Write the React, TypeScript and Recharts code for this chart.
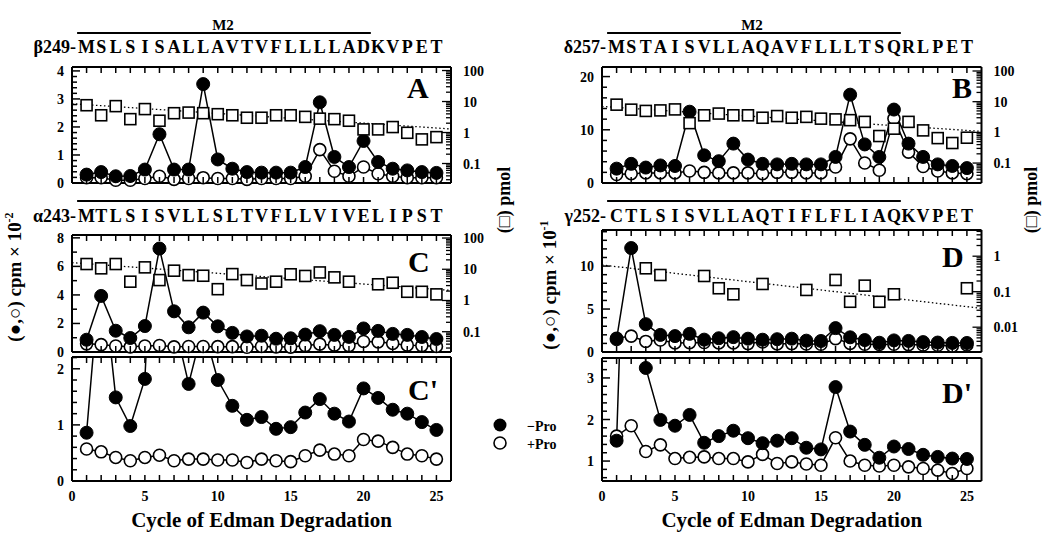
import { ComposedChart, Line, XAxis, YAxis } from "recharts";

const FONT = "'Liberation Serif', 'Times New Roman', Times, serif";

// cycle numbers of Edman degradation
const cycles = [1, 2, 3, 4, 5, 6, 7, 8, 9, 10, 11, 12, 13, 14, 15, 16, 17, 18, 19, 20, 21, 22, 23, 24, 25];
const xLabelTicks = [0, 5, 10, 15, 20, 25];

// sequences above each panel
const seqA = "MSLSISALLAVTVFLLLLADKVPET".split("");
const seqB = "MSTAISVLLAQAVFLLLTSQRLPET".split("");
const seqC = "MTLSISVLLSLTVFLLVIVELIPST".split("");
const seqD = "CTLSISVLLAQTIFLFLIAQKVPET".split("");

// A: beta subunit (cpm x 10^-2, pmol)
const minusA = [0.3, 0.39, 0.24, 0.25, 0.48, 1.74, 0.48, 0.48, 3.53, 0.84, 0.51, 0.39, 0.37, 0.37, 0.37, 0.57, 2.88, 0.93, 0.57, 1.5, 0.75, 0.51, 0.45, 0.39, 0.36];
const plusA = [0.19, 0.19, 0.1, 0.1, 0.16, 0.24, 0.13, 0.16, 0.19, 0.16, 0.16, 0.13, 0.16, 0.16, 0.16, 0.24, 1.19, 0.42, 0.24, 0.57, 0.33, 0.24, 0.19, 0.19, 0.19];
const pmolA = [7.6, 3.6, 7.1, 2.7, 5.7, 2.4, 4.2, 4.4, 4.2, 3.9, 3.6, 3.0, 3.0, 3.6, 3.6, 3.2, 2.8, 2.7, 2.4, 1.26, 1.26, 1.5, 0.98, 0.6, 0.71];
const fitA = [8.5, 1.3];

// B: delta subunit
const minusB = [2.7, 3.6, 2.9, 3.3, 3.2, 13.4, 5.2, 4.1, 7.4, 4.4, 3.6, 3.5, 3.6, 3.5, 3.5, 4.9, 16.6, 7.25, 4.9, 13.8, 7.4, 4.9, 3.5, 3.2, 2.8];
const plusB = [1.6, 1.75, 1.9, 1.9, 1.9, 2.25, 2.0, 1.9, 1.9, 1.9, 1.75, 2.0, 2.0, 1.9, 1.9, 3.0, 8.3, 3.75, 2.4, 12.1, 5.8, 3.1, 2.25, 1.9, 1.75];
const pmolB = [8.0, 5.5, 5.0, 5.2, 5.6, 2.0, 3.6, 4.1, 3.6, 3.6, 3.0, 3.4, 3.0, 3.2, 2.8, 2.65, 2.5, 2.2, 0.76, 1.32, 2.2, 1.16, 0.65, 0.45, 0.67];
const fitB = [7.0, 1.08];

// C / C': alpha subunit
const minusC = [0.86, 3.93, 1.49, 0.98, 1.82, 7.25, 2.85, 1.73, 2.76, 1.8, 1.34, 1.09, 1.14, 0.93, 0.96, 1.22, 1.46, 1.2, 1.06, 1.65, 1.48, 1.27, 1.2, 1.05, 0.91];
const plusC = [0.57, 0.52, 0.42, 0.36, 0.42, 0.46, 0.36, 0.39, 0.39, 0.375, 0.375, 0.33, 0.39, 0.36, 0.345, 0.45, 0.55, 0.48, 0.45, 0.74, 0.71, 0.6, 0.48, 0.45, 0.39];
const pmolC = [14.7, 10.7, 14.7, 4.0, 11.5, 4.5, 9.0, 6.5, 6.2, 2.3, 7.0, 4.5, 3.5, 4.0, 6.9, 6.1, 7.9, 5.5, 4.0, null, 3.3, 3.7, 1.9, 1.9, 1.57];
const fitC = [16.3, 2.1];

// D / D': gamma subunit (cpm x 10^-1)
const minusD = [1.49, 12.1, 3.24, 1.99, 1.85, 2.11, 1.44, 1.6, 1.73, 1.55, 1.43, 1.49, 1.55, 1.32, 1.28, 2.78, 1.71, 1.39, 1.08, 1.35, 1.29, 1.15, 1.1, 1.06, 1.05];
const plusD = [1.6, 1.85, 1.23, 1.39, 1.06, 1.09, 1.1, 1.06, 1.06, 0.98, 1.16, 0.94, 0.98, 0.93, 0.9, 1.56, 1.0, 0.9, 0.88, 0.9, 0.86, 0.82, 0.78, 0.7, 0.82];
const pmolD = [null, null, 0.456, 0.295, null, null, 0.277, 0.125, 0.0845, null, 0.165, null, null, 0.112, null, 0.214, 0.052, 0.148, 0.052, 0.0845, null, null, null, null, 0.125];
const fitD = [0.565, 0.034];

type Row = { x: number; minus?: number | null; plus?: number | null; pmol?: number | null; fit?: number | null };

function buildRows(minus: number[], plus: number[], pmol?: (number | null)[], fit?: number[]): Row[] {
  const rows: Row[] = [];
  if (fit) rows.push({ x: 0, fit: fit[0] });
  cycles.forEach((c, i) => rows.push({ x: c, minus: minus[i], plus: plus[i], pmol: pmol ? pmol[i] : null }));
  if (fit) rows.push({ x: 26, fit: fit[1] });
  return rows;
}

function steps(lo: number, hi: number, step: number) {
  const out: number[] = [];
  for (let v = Math.ceil(lo / step - 1e-9) * step; v <= hi + 1e-9; v += step) out.push(+v.toFixed(4));
  return out;
}

function logTicks(lo: number, hi: number) {
  const out: number[] = [];
  for (let d = Math.floor(Math.log10(lo)); d <= Math.ceil(Math.log10(hi)); d++) {
    for (let k = 1; k <= 9; k++) {
      const v = +(k * Math.pow(10, d)).toPrecision(6);
      if (v >= lo && v <= hi) out.push(v);
    }
  }
  return out;
}

const match = (labels: number[], v: number) =>
  labels.find((l) => Math.abs(l - v) <= 1e-6 * Math.max(1, Math.abs(l)));

const txt = { fontFamily: FONT, fontWeight: 700, fill: "#000" } as const;
const axisLine = { stroke: "#000", strokeWidth: 2 };
const TICK = "#000";

const Square = (props: any) => {
  const { cx, cy, index, payload } = props;
  if (payload?.pmol == null || cx == null || cy == null || isNaN(cy)) return <g key={`sq-${index}`} />;
  return <rect key={`sq-${index}`} x={cx - 5.5} y={cy - 5.5} width={11} height={11} fill="#fff" stroke="#000" strokeWidth={1.6} />;
};

type PanelProps = {
  left: number;
  top: number;
  w: number;
  h: number;
  rows: Row[];
  letters?: string[];
  letterY?: number;
  yDomain: [number, number];
  yStep: number;
  yLabels: number[];
  logDomain?: [number, number];
  logLabels?: number[];
  xLabels?: boolean;
  zoomed?: boolean;
};

function Panel(p: PanelProps) {
  const LW = 45;
  const RW = 50;
  const TH = p.letters ? 36 : 10;
  const BH = p.xLabels ? 30 : 12;
  const yTicks = steps(p.yDomain[0], p.yDomain[1], p.yStep);
  const lTicks = p.logDomain ? logTicks(p.logDomain[0], p.logDomain[1]) : [];
  const letterOff = (p.letterY ?? 0) - p.top;

  return (
    <div style={{ position: "absolute", left: p.left - LW, top: p.top - TH }}>
      <ComposedChart width={p.w + LW + RW} height={p.h + TH + BH} data={p.rows} margin={{ top: 0, right: 0, bottom: 0, left: 0 }}>
        <XAxis
          xAxisId="b"
          dataKey="x"
          type="number"
          domain={[0, 26]}
          allowDataOverflow
          ticks={p.xLabels ? [0, ...cycles] : cycles}
          interval={0}
          height={BH}
          tickSize={0}
          tickMargin={0}
          axisLine={axisLine}
          tickLine={false}
          tick={(t: any) => (
            <g>
              <path d={`M${t.x},${t.y}V${t.y - 6}`} stroke={TICK} strokeWidth={1.5} />
              {p.xLabels && xLabelTicks.includes(t.payload.value) && (
                <text x={t.x} y={t.y + 20} textAnchor="middle" fontSize={14} {...txt}>
                  {t.payload.value}
                </text>
              )}
            </g>
          )}
        />
        <XAxis
          xAxisId="t"
          orientation="top"
          dataKey="x"
          type="number"
          domain={[0, 26]}
          allowDataOverflow
          ticks={cycles}
          interval={0}
          height={TH}
          tickSize={0}
          tickMargin={0}
          axisLine={axisLine}
          tickLine={false}
          tick={(t: any) => (
            <g>
              <path d={`M${t.x},${t.y}V${t.y + 6}`} stroke={TICK} strokeWidth={1.5} />
              {p.letters && (
                <text x={t.x} y={t.y + letterOff} textAnchor="middle" fontSize={18} {...txt}>
                  {p.letters[t.payload.value - 1]}
                </text>
              )}
            </g>
          )}
        />
        <YAxis
          yAxisId="l"
          type="number"
          domain={p.yDomain}
          allowDataOverflow
          ticks={yTicks}
          interval={0}
          width={LW}
          tickSize={0}
          tickMargin={0}
          axisLine={axisLine}
          tickLine={false}
          tick={(t: any) => {
            const lab = match(p.yLabels, t.payload.value);
            return (
              <g>
                <path d={`M${t.x},${t.y}H${t.x + (lab !== undefined ? 8 : 5)}`} stroke={TICK} strokeWidth={1.5} />
                {lab !== undefined && (
                  <text x={t.x - 8} y={t.y + 5} textAnchor="end" fontSize={14} {...txt}>
                    {String(lab)}
                  </text>
                )}
              </g>
            );
          }}
        />
        {p.logDomain ? (
          <YAxis
            yAxisId="r"
            orientation="right"
            type="number"
            scale="log"
            domain={p.logDomain}
            allowDataOverflow
            ticks={lTicks}
            interval={0}
            width={RW}
            tickSize={0}
            tickMargin={0}
            axisLine={axisLine}
            tickLine={false}
            tick={(t: any) => {
              const lab = match(p.logLabels ?? [], t.payload.value);
              return (
                <g>
                  <path d={`M${t.x},${t.y}H${t.x - (lab !== undefined ? 9 : 5)}`} stroke={TICK} strokeWidth={1.3} />
                  {lab !== undefined && (
                    <text x={t.x + 12} y={t.y + 5} textAnchor="start" fontSize={14} {...txt}>
                      {String(lab)}
                    </text>
                  )}
                </g>
              );
            }}
          />
        ) : (
          <YAxis yAxisId="r" orientation="right" type="number" domain={[0, 1]} width={RW} ticks={[]} tick={false} tickLine={false} axisLine={axisLine} />
        )}
        {p.logDomain && (
          <Line
            xAxisId="b"
            yAxisId="r"
            dataKey="fit"
            connectNulls
            stroke="#000"
            strokeWidth={1.3}
            strokeDasharray="1.5 2.5"
            dot={false}
            activeDot={false}
            isAnimationActive={false}
          />
        )}
        <Line
          xAxisId="b"
          yAxisId="l"
          dataKey="plus"
          stroke="#000"
          strokeWidth={1.5}
          dot={{ r: 6, fill: "#fff", stroke: "#000", strokeWidth: 1.6, clipDot: !!p.zoomed }}
          activeDot={false}
          isAnimationActive={false}
        />
        <Line
          xAxisId="b"
          yAxisId="l"
          dataKey="minus"
          stroke="#000"
          strokeWidth={1.5}
          dot={{ r: 6.5, fill: "#000", stroke: "#000", strokeWidth: 1, clipDot: !!p.zoomed }}
          activeDot={false}
          isAnimationActive={false}
        />
        {p.logDomain && (
          <Line xAxisId="b" yAxisId="r" dataKey="pmol" stroke="none" strokeWidth={0} dot={Square} activeDot={false} isAnimationActive={false} />
        )}
      </ComposedChart>
    </div>
  );
}

const SX = 379 / 26; // px per cycle, used for the M2 bars
const m2Span = [0.35, 20.5];

function Rot({ x, y, children, size = 19 }: { x: number; y: number; children: any; size?: number }) {
  return (
    <text transform={`translate(${x},${y}) rotate(-90)`} textAnchor="middle" fontSize={size} {...txt}>
      {children}
    </text>
  );
}

export default function App() {
  return (
    <div style={{ position: "absolute", left: 0, top: 0, width: 1050, height: 542, background: "#fff" }}>
      <Panel left={72} top={67} w={379} h={116} rows={buildRows(minusA, plusA, pmolA, fitA)} letters={seqA} letterY={53}
        yDomain={[0, 4.14]} yStep={0.2} yLabels={[0, 1, 2, 3, 4]} logDomain={[0.0235, 130]} logLabels={[0.1, 1, 10, 100]} />
      <Panel left={602} top={67} w={379.5} h={116} rows={buildRows(minusB, plusB, pmolB, fitB)} letters={seqB} letterY={53}
        yDomain={[0, 21.8]} yStep={2} yLabels={[0, 10, 20]} logDomain={[0.0224, 135]} logLabels={[0.1, 1, 10, 100]} />
      <Panel left={72} top={235} w={379} h={117} rows={buildRows(minusC, plusC, pmolC, fitC)} letters={seqC} letterY={222}
        yDomain={[0, 8.2]} yStep={1} yLabels={[0, 2, 4, 6, 8]} logDomain={[0.0224, 125]} logLabels={[0.1, 1, 10, 100]} />
      <Panel left={602} top={230} w={379.5} h={122} rows={buildRows(minusD, plusD, pmolD, fitD)} letters={seqD} letterY={222}
        yDomain={[0, 14.2]} yStep={1} yLabels={[0, 5, 10]} logDomain={[0.002, 5.47]} logLabels={[0.01, 0.1, 1]} />
      <Panel left={72} top={357} w={379} h={124} rows={buildRows(minusC, plusC)}
        yDomain={[0, 2.21]} yStep={0.2} yLabels={[0, 1, 2]} xLabels zoomed />
      <Panel left={602} top={358} w={379.5} h={123} rows={buildRows(minusD, plusD)}
        yDomain={[0.52, 3.48]} yStep={0.2} yLabels={[1, 2, 3]} xLabels zoomed />

      <svg width={1050} height={542} style={{ position: "absolute", left: 0, top: 0, pointerEvents: "none" }}>
        {/* M2 bars */}
        <line x1={72 + m2Span[0] * SX} y1={33} x2={72 + m2Span[1] * SX} y2={33} stroke="#000" strokeWidth={2} />
        <line x1={602 + m2Span[0] * SX} y1={33} x2={602 + m2Span[1] * SX} y2={33} stroke="#000" strokeWidth={2} />
        <line x1={72 + m2Span[0] * SX} y1={201} x2={72 + m2Span[1] * SX} y2={201} stroke="#000" strokeWidth={2} />
        <line x1={602 + m2Span[0] * SX} y1={201} x2={602 + m2Span[1] * SX} y2={201} stroke="#000" strokeWidth={2} />
        <text x={223} y={30} textAnchor="middle" fontSize={15} {...txt}>M2</text>
        <text x={752} y={30} textAnchor="middle" fontSize={15} {...txt}>M2</text>

        {/* sequence prefixes */}
        <text x={76} y={53} textAnchor="end" fontSize={18} {...txt}>β249-</text>
        <text x={606} y={53} textAnchor="end" fontSize={18} {...txt}>δ257-</text>
        <text x={76} y={222} textAnchor="end" fontSize={18} {...txt}>α243-</text>
        <text x={606} y={222} textAnchor="end" fontSize={18} {...txt}>γ252-</text>

        {/* panel letters */}
        <text x={407} y={98} fontSize={30} {...txt}>A</text>
        <text x={952} y={98} fontSize={30} {...txt}>B</text>
        <text x={408} y={272} fontSize={30} {...txt}>C</text>
        <text x={942} y={267} fontSize={30} {...txt}>D</text>
        <text x={408} y={400} fontSize={30} {...txt}>C'</text>
        <text x={942} y={403} fontSize={30} {...txt}>D'</text>

        {/* axis titles */}
        <Rot x={21} y={277}>
          (●,○) cpm × 10<tspan dy={-8} fontSize={12}>-2</tspan>
        </Rot>
        <Rot x={556} y={285}>
          (●,○) cpm × 10<tspan dy={-8} fontSize={12}>-1</tspan>
        </Rot>
        <Rot x={510} y={200} size={18}>(□) pmol</Rot>
        <Rot x={1037} y={200} size={18}>(□) pmol</Rot>
        <text x={261.5} y={527} textAnchor="middle" fontSize={21} {...txt}>Cycle of Edman Degradation</text>
        <text x={791.75} y={527} textAnchor="middle" fontSize={21} {...txt}>Cycle of Edman Degradation</text>

        {/* legend */}
        <circle cx={500} cy={425} r={6.5} fill="#000" />
        <circle cx={500} cy={443} r={6} fill="#fff" stroke="#000" strokeWidth={1.6} />
        <text x={527} y={431} fontSize={14} {...txt}>−Pro</text>
        <text x={527} y={449} fontSize={14} {...txt}>+Pro</text>
      </svg>
    </div>
  );
}
